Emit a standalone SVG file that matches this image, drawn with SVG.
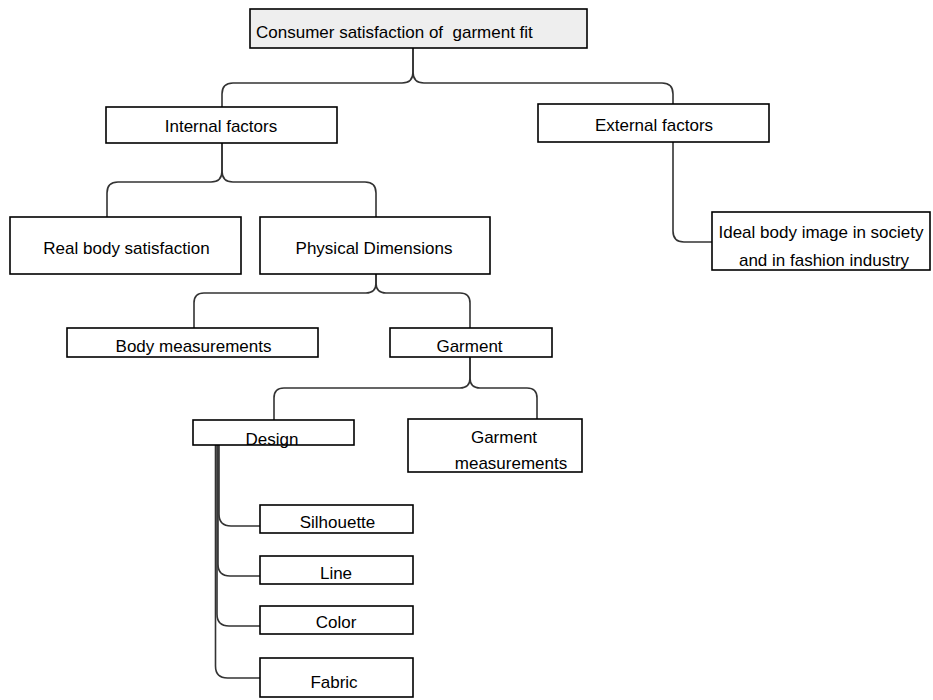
<svg xmlns="http://www.w3.org/2000/svg" width="933" height="700" viewBox="0 0 933 700">
  <style>
    .box { fill: #ffffff; stroke: #000000; stroke-width: 1.6; }
    .root { fill: #eeeeee; stroke: #000000; stroke-width: 1.6; }
    .lbl { font-family: "Liberation Sans", Arial, Helvetica, sans-serif; font-size: 17px; fill: #000000; text-anchor: middle; }
    .link { fill: none; stroke: #333333; stroke-width: 1.6; }
  </style>
  <rect width="933" height="700" fill="#ffffff"/>

  <!-- connectors -->
  <g id="connectors">
    <!-- root to first level -->
    <path class="link" d="M413,48 V72 Q413,83 402,83 H233 Q222,83 222,94 V107"/>
    <path class="link" d="M413,48 V72 Q413,83 424,83 H662 Q673,83 673,94 V104"/>
    <!-- external factors to ideal body image -->
    <path class="link" d="M673,142 V231 Q673,242 684,242 H712"/>
    <!-- internal factors to children -->
    <path class="link" d="M222,143 V171 Q222,182 211,182 H118 Q107,182 107,193 V217"/>
    <path class="link" d="M222,143 V171 Q222,182 233,182 H365 Q376,182 376,193 V217"/>
    <!-- physical dimensions to children -->
    <path class="link" d="M376,274 V283 Q376,293 366,293 H204 Q194,293 194,303 V328"/>
    <path class="link" d="M376,274 V283 Q376,293 386,293 H460 Q470,293 470,303 V328"/>
    <!-- garment to children -->
    <path class="link" d="M470,357 V378 Q470,388 460,388 H284 Q274,388 274,398 V420"/>
    <path class="link" d="M470,357 V378 Q470,388 480,388 H527 Q537,388 537,398 V419"/>
    <!-- design to its attributes -->
    <path class="link" d="M219,445 V514 Q219,526 231,526 H260"/>
    <path class="link" d="M218,445 V564 Q218,576 230,576 H260"/>
    <path class="link" d="M217,445 V614 Q217,626 229,626 H260"/>
    <path class="link" d="M215.5,445 V666 Q215.5,678 227.5,678 H260"/>
  </g>

  <g id="node-root">
    <rect class="root" x="250" y="9" width="337" height="39"/>
    <text class="lbl" x="256" y="37.5" style="text-anchor:start; white-space:pre" xml:space="preserve">Consumer satisfaction of  garment fit</text>
  </g>

  <g id="node-internal">
    <rect class="box" x="106" y="107" width="231" height="36"/>
    <text class="lbl" x="221" y="132">Internal factors</text>
  </g>

  <g id="node-external">
    <rect class="box" x="538" y="104" width="231" height="38"/>
    <text class="lbl" x="654" y="131">External factors</text>
  </g>

  <g id="node-ideal">
    <rect class="box" x="712" y="212" width="218" height="58"/>
    <text class="lbl" x="821" y="237.5">Ideal body image in society</text>
    <text class="lbl" x="824" y="266">and in fashion industry</text>
  </g>

  <g id="node-real-body">
    <rect class="box" x="10" y="217" width="231" height="57"/>
    <text class="lbl" x="126.5" y="254">Real body satisfaction</text>
  </g>

  <g id="node-physical">
    <rect class="box" x="260" y="217" width="230" height="57"/>
    <text class="lbl" x="374" y="254">Physical Dimensions</text>
  </g>

  <g id="node-body-measurements">
    <rect class="box" x="67" y="328" width="251" height="29"/>
    <text class="lbl" x="193.5" y="352">Body measurements</text>
  </g>

  <g id="node-garment">
    <rect class="box" x="390" y="328" width="162" height="29"/>
    <text class="lbl" x="469.5" y="352">Garment</text>
  </g>

  <g id="node-design">
    <rect class="box" x="193" y="420" width="161" height="25"/>
    <text class="lbl" x="272" y="445">Design</text>
  </g>

  <g id="node-garment-measurements">
    <rect class="box" x="408" y="419" width="174" height="53"/>
    <text class="lbl" x="504" y="442.5">Garment</text>
    <text class="lbl" x="511" y="469">measurements</text>
  </g>

  <g id="node-silhouette">
    <rect class="box" x="260" y="505" width="153" height="28"/>
    <text class="lbl" x="337.5" y="528">Silhouette</text>
  </g>

  <g id="node-line">
    <rect class="box" x="260" y="556" width="153" height="28"/>
    <text class="lbl" x="336" y="578.5">Line</text>
  </g>

  <g id="node-color">
    <rect class="box" x="260" y="606" width="153" height="28"/>
    <text class="lbl" x="336" y="628">Color</text>
  </g>

  <g id="node-fabric">
    <rect class="box" x="260" y="658" width="153" height="39"/>
    <text class="lbl" x="334" y="688">Fabric</text>
  </g>
</svg>
